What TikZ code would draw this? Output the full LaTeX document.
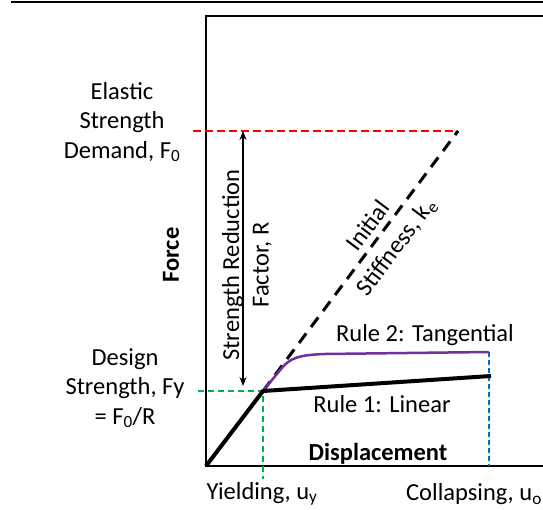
\documentclass[tikz,border=0pt]{standalone}
\usepackage{fontspec}
\setmainfont{Carlito}
\usetikzlibrary{arrows.meta, positioning}

\definecolor{demandred}{HTML}{FF0000}
\definecolor{yieldgreen}{HTML}{00B050}
\definecolor{collapseblue}{HTML}{0070C0}
\definecolor{rulepurple}{HTML}{7030A0}

\begin{document}
\begin{tikzpicture}[
    x=1pt, y=-1pt,
    % Text styles
    lbl/.style={font=\fontsize{24.5}{29.5}\selectfont, align=center, inner sep=0pt},
    axislbl/.style={lbl, font=\fontsize{24.5}{29.5}\selectfont\bfseries},
    % Line styles
    frame/.style={line width=2pt, black},
    border/.style={line width=2.8pt, black},
    rulecurve/.style={line width=4pt, black},
    tangent/.style={line width=2.5pt, rulepurple},
    guide/.style={line width=2pt, dash pattern=on 6pt off 4pt},
    stiffline/.style={line width=3pt, black, dash pattern=on 12pt off 8pt},
    dblarrow/.style={{Stealth[length=9pt,width=7pt]}-{Stealth[length=9pt,width=7pt]}, line width=1.3pt}
]
\useasboundingbox (0,0) rectangle (543,510);

% ============================================================
% Key points (pixel grid of the figure)
% ============================================================
\coordinate (origin)  at (206,466);
\coordinate (yield)   at (263,391);
\coordinate (elastic) at (458,131);
\coordinate (r1end)   at (491,376);
\coordinate (r2end)   at (489,352);
\coordinate (r2knee)  at (281,369);
\coordinate (r2flat)  at (325,354);

% -- frame --
\coordinate (topl)   at (11,2);
\coordinate (topr)   at (543,2);
\coordinate (boxtl)  at (206,16);
\coordinate (boxtr)  at (543,16);
\coordinate (boxbr)  at (543,466);

% -- guide line ends --
\coordinate (f0left) at (193,131);
\coordinate (fyleft) at (198,391);
\coordinate (uyfoot) at (263,479);
\coordinate (uofoot) at (489,466);
\coordinate (arrtop) at (243,131);
\coordinate (arrbot) at (243,386);

% ============================================================
% Frame
% ============================================================
\draw[border] (topl) -- (topr);
\draw[frame] (boxtr) -- (boxtl) -- (origin) -- (boxbr);

% ============================================================
% Guides
% ============================================================
\draw[guide, demandred, dash pattern=on 8pt off 4pt] (f0left) -- (elastic);
\draw[guide, yieldgreen] (fyleft) -- (yield) -- (uyfoot);
\draw[guide, collapseblue, dash pattern=on 5pt off 3pt] (r2end) -- (uofoot);
\draw[dblarrow] (arrtop) -- (arrbot);

% ============================================================
% Curves
% ============================================================
\draw[stiffline] (yield) -- (elastic);
\draw[tangent] (yield) -- (r2knee) .. controls (290,358) and (298,355) .. (r2flat) -- (r2end);
\draw[rulecurve] (origin) -- (yield) -- (r1end);

% ============================================================
% Labels
% ============================================================
\node[lbl] (f0lbl) at (122,122) {Elastic\\Strength\\Demand, F\textsubscript{0}};
\node[lbl] (fylbl) at (125,388) {Design\\Strength, Fy\\= F\textsubscript{0}/R};
\node[axislbl, rotate=90] (forcelbl) at (171,255) {Force};
\node[axislbl] (displbl) at (378,454) {Displacement};
\node[lbl, rotate=90] (rlbl) at (247,265) {Strength Reduction\\Factor, R};
\node[lbl, rotate=53] (kelbl) at (383,237) {Initial\\[5pt]Stiffness, k\textsubscript{e}};
\node[lbl] (r1lbl) at (382,404) {Rule 1: Linear};
\node[lbl] (r2lbl) at (425,335) {Rule 2: Tangential};
\node[lbl] (uylbl) at (262,494) {Yielding, u\textsubscript{y}};
\node[lbl] (uolbl) at (474,494) {Collapsing, u\textsubscript{o}};

\end{tikzpicture}
\end{document}
